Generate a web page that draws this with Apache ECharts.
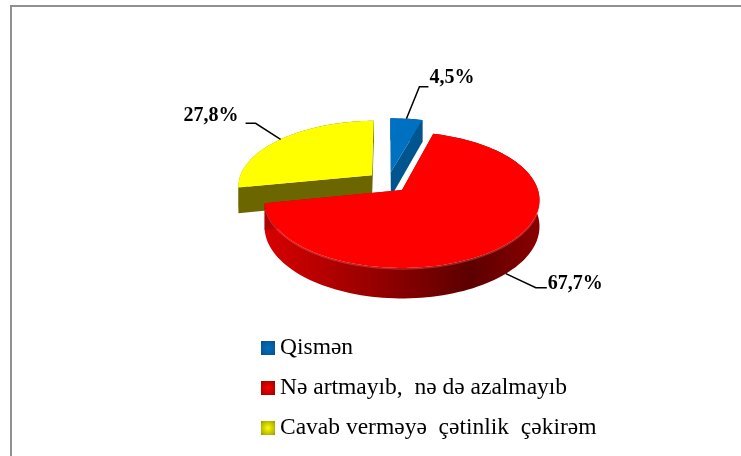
<!DOCTYPE html>
<html>
<head>
<meta charset="utf-8">
<style>
html, body { margin: 0; padding: 0; background: #fff; }
#main { width: 741px; height: 456px; }
</style>
<script src="https://cdn.jsdelivr.net/npm/echarts@6/dist/echarts.min.js"></script>
</head>
<body>
<div id="main"></div>
<script>
const categories = ['Qismən', 'Nə artmayıb,  nə də azalmayıb', 'Cavab verməyə  çətinlik  çəkirəm']
const values = [4.5, 67.7, 27.8]

// look of each slice, same order as categories
const topColors = ['#0070c0', '#ff0000', '#ffff00']
const faceColors = ['#00558f', '#b00000', '#6b6600']
const rimLeft = ['#0070c0', '#d80000', '#a0a000']
const rimRight = ['#003a66', '#5c0000', '#5c5c00']
const rimEnd = ['#003a66', '#8a0000', '#5c5c00']
const legendDark = ['#0a4a80', '#8a0000', '#8a8a00']
// slice pulled out from the middle, in pie plane units
const explode = [[-0.085, 0.28], [0, 0], [-0.228, 0.23]]
// elbow and end of the leader line, from the slice mid point
const leaders = [[[13, -32], [22, -32]], [[30, 14], [41, 14]], [[-25, -16], [-35, -16]]]
const labelAlign = ['left', 'left', 'right']
const labelLift = [9, 4, 7]

const cx = 402, cy = 190, rx = 136, ry = 66.5, persp = 0.147, depth = 26
const startAngle = -1
const total = values.reduce((a, b) => a + b, 0)

// pie plane -> screen, far side is squeezed a little
const project = (u, v) => {
    const k = 1 + persp * v
    return [cx + rx * u / k, cy - ry * v / k, depth / k]
}
const rimPoint = (i, deg) => {
    const a = deg * Math.PI / 180
    return project(explode[i][0] + Math.sin(a), explode[i][1] + Math.cos(a))
}
const down = p => [p[0], p[1] + p[2]]
const sliceRange = i => {
    let from = startAngle
    for (let k = 0; k < i; k++) from += values[k] / total * 360
    return [from, from + values[i] / total * 360]
}
const arcPoints = (i, from, to) => {
    const pts = []
    const n = Math.ceil((to - from) / 2)
    for (let k = 0; k <= n; k++) pts.push(rimPoint(i, from + (to - from) * k / n))
    return pts
}
const poly = (points, style) => ({ type: 'polygon', shape: { points: points.map(p => [p[0], p[1]]) }, style: style })

const renderSlice = (i) => (params, api) => {
    const [from, to] = sliceRange(i)
    const apex = project(explode[i][0], explode[i][1])
    const arc = arcPoints(i, from, to)
    const first = arc[0], last = arc[arc.length - 1]
    const children = []
    // outer wall
    const xs = arc.map(p => p[0])
    const x0 = Math.min(...xs), x1 = Math.max(...xs)
    children.push(poly(arc.concat(arc.map(down).reverse()), {
        fill: new echarts.graphic.LinearGradient(x0, 0, x1, 0, [
            { offset: 0, color: rimLeft[i] },
            { offset: 0.75, color: rimRight[i] },
            { offset: 1, color: rimEnd[i] }
        ], true)
    }))
    // cut faces
    children.push(poly([apex, first, down(first), down(apex)], { fill: faceColors[i] }))
    children.push(poly([apex, last, down(last), down(apex)], { fill: faceColors[i] }))
    // soft highlight along the front edge
    children.push({
        type: 'polyline',
        shape: { points: arc.filter((p, k) => {
            const d = from + (to - from) * k / (arc.length - 1)
            return d > 100 && d < 255
        }).map(p => [p[0], p[1] + 1]) },
        style: { stroke: 'rgba(255,110,110,0.35)', lineWidth: 1.5, fill: null }
    })
    // top face
    children.push(poly([apex].concat(arc), { fill: topColors[i] }))
    // leader line and value label
    const mid = rimPoint(i, (from + to) / 2)
    const anchor = mid[1] > cy + 20 ? down(mid) : mid
    const elbow = [anchor[0] + leaders[i][0][0], anchor[1] + leaders[i][0][1]]
    const end = [anchor[0] + leaders[i][1][0], anchor[1] + leaders[i][1][1]]
    children.push({
        type: 'polyline',
        shape: { points: [[anchor[0], anchor[1]], elbow, end] },
        style: { stroke: '#000', lineWidth: 1.5, fill: null }
    })
    children.push({
        type: 'text',
        style: {
            x: end[0] + (labelAlign[i] === 'left' ? 1 : -7),
            y: end[1] - labelLift[i],
            text: values[i].toFixed(1).replace('.', ',') + '%',
            fill: '#000',
            font: 'bold 20px "Liberation Serif"',
            align: labelAlign[i],
            verticalAlign: 'middle'
        }
    })
    return { type: 'group', children: children }
}

const chart = echarts.init(document.getElementById('main'))
chart.setOption({
    animation: false,
    backgroundColor: '#fff',
    graphic: [{
        type: 'polyline',
        silent: true,
        shape: { points: [[11, 456], [11, 6], [741, 6]] },
        style: { stroke: '#909090', lineWidth: 2, fill: null }
    }],
    legend: {
        orient: 'vertical',
        left: 256,
        top: 331,
        itemWidth: 14,
        itemHeight: 14,
        itemGap: 16,
        icon: 'rect',
        selectedMode: false,
        textStyle: { fontFamily: '"Liberation Serif"', fontSize: 23.5, color: '#000', lineHeight: 24 },
        data: categories.map((name, i) => ({
            name: name,
            itemStyle: {
                color: new echarts.graphic.RadialGradient(0.5, 0.5, 0.8, [
                    { offset: 0, color: topColors[i] },
                    { offset: 1, color: legendDark[i] }
                ])
            }
        }))
    },
    series: categories.map((name, i) => ({
        type: 'custom',
        name: name,
        coordinateSystem: 'none',
        z: i === 1 ? 3 : 2,
        silent: true,
        itemStyle: { color: topColors[i] },
        data: [values[i]],
        renderItem: renderSlice(i)
    }))
})
</script>
</body>
</html>
